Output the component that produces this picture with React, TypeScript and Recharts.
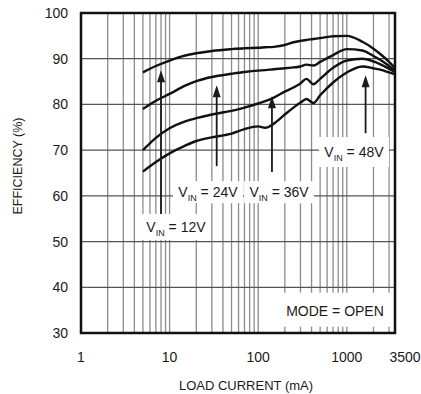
import React from 'react';
import { LineChart, Line, XAxis, YAxis, CartesianGrid, ReferenceLine, ReferenceDot, ReferenceArea, Label } from 'recharts';

// load current (mA), shared by all four curves
const currents = [5, 7, 10, 15, 20, 30, 50, 70, 100, 120, 150, 200, 250, 300, 350, 420, 500, 700, 1000, 1500, 2000, 2500, 3000, 3500];

// efficiency (%) per input voltage
const eff12 = [87.0, 88.4, 89.6, 90.7, 91.2, 91.7, 92.1, 92.3, 92.4, 92.5, 92.6, 93.0, 93.6, 93.9, 94.1, 94.3, 94.5, 94.9, 95.0, 93.7, 92.2, 90.7, 89.3, 88.0];
const eff24 = [79.0, 80.8, 82.3, 84.1, 85.1, 86.0, 86.7, 87.1, 87.4, 87.5, 87.7, 87.9, 88.1, 88.3, 88.7, 88.5, 89.3, 90.8, 92.1, 91.8, 90.6, 89.5, 88.4, 87.4];
const eff36 = [70.0, 72.7, 74.8, 76.3, 77.0, 77.8, 78.6, 79.3, 80.2, 80.7, 81.5, 82.8, 83.7, 84.6, 85.6, 84.4, 85.6, 88.0, 89.6, 90.0, 89.4, 88.6, 87.8, 87.1];
const eff48 = [65.3, 67.4, 69.3, 71.0, 72.0, 72.8, 73.6, 74.6, 75.2, 74.9, 75.8, 77.8, 79.3, 80.4, 81.2, 80.3, 82.0, 84.8, 87.0, 88.3, 87.9, 87.5, 87.0, 86.6];

// axis ticks
const gridTicks = [1, 2, 3, 4, 5, 6, 7, 8, 9, 10, 20, 30, 40, 50, 60, 70, 80, 90, 100, 200, 300, 400, 500, 600, 700, 800, 900, 1000, 2000, 3000, 3500];
const majorTicks = [1, 10, 100, 1000, 3500];
const yTicks = [30, 40, 50, 60, 70, 80, 90, 100];

// annotations (data coordinates)
const vinLabels = ['12V', '24V', '36V', '48V'];
const arrowX = [8, 34, 143, 1630];
const arrowTipY = [87.5, 84.2, 81.8, 86.4];
const arrowBaseY = [54.5, 66.5, 65.2, 73.7];
const labelX = [11.8, 27.1, 172, 1205];
const labelY = [53.2, 60.8, 60.8, 69.6];

const FONT = '"Liberation Sans", Arial, sans-serif';
const INK = '#1a1a1a';

const series = [eff12, eff24, eff36, eff48].map(vals => currents.map((x, i) => ({ x, y: vals[i] })));

const boxW = [68, 70, 70, 70];
const boxH = [26, 22, 22, 30];

const XTick = (props: any) => {
  const { x, y, payload } = props;
  const v = payload.value;
  if (!majorTicks.includes(v)) return <g />;
  return (
    <text x={x + (v === 3500 ? 10 : 0)} y={y + 29} textAnchor="middle" fontSize={14} fill={INK} fontFamily={FONT}>
      {v}
    </text>
  );
};

const arrowHead = (p: any) => (
  <path d={`M${p.cx},${p.cy} L${p.cx - 4},${p.cy + 12} L${p.cx + 4},${p.cy + 12} Z`} fill={INK} />
);

const vinLabel = (i: number) => (p: any) => (
  <g>
    <rect x={p.cx - boxW[i] / 2} y={p.cy - boxH[i] / 2} width={boxW[i]} height={boxH[i]} fill="#fff" />
    <text x={p.cx} y={p.cy + 5} textAnchor="middle" fontSize={14} fill={INK} fontFamily={FONT}>
      V<tspan fontSize={9} dy={4}>IN</tspan>
      <tspan dy={-4}> = {vinLabels[i]}</tspan>
    </text>
  </g>
);

const modeLabel = (p: any) => (
  <g>
    <rect x={p.cx - 56} y={p.cy - 17} width={112} height={34} fill="#fff" />
    <text x={p.cx} y={p.cy + 6} textAnchor="middle" fontSize={14} fill={INK} fontFamily={FONT}>
      MODE = OPEN
    </text>
  </g>
);

export default function App() {
  return (
    <div style={{ position: 'absolute', left: 0, top: 0, background: '#fff' }}>
      <LineChart width={421} height={394} margin={{ top: 13, right: 26, bottom: 0, left: 0 }}>
        <CartesianGrid horizontal={false} stroke="#8c8c8c" strokeWidth={1.3} />
        <CartesianGrid vertical={false} stroke="#555" strokeWidth={1.3} />
        <XAxis
          dataKey="x"
          type="number"
          scale="log"
          domain={[1, 3500]}
          ticks={gridTicks}
          interval={0}
          allowDataOverflow
          height={61}
          tickSize={0}
          tickMargin={0}
          tickLine={false}
          axisLine={false}
          tick={<XTick />}
        >
          <Label
            content={(props: any) => {
              const vb = props.viewBox;
              return (
                <text x={vb.x + vb.width / 2 + 8} y={vb.y + 57} textAnchor="middle" fontSize={13} fill={INK} fontFamily={FONT}>
                  LOAD CURRENT (mA)
                </text>
              );
            }}
          />
        </XAxis>
        <YAxis
          type="number"
          domain={[30, 100]}
          ticks={yTicks}
          interval={0}
          width={81}
          tickSize={0}
          tickMargin={13}
          tickLine={false}
          axisLine={false}
          tick={{ fill: INK, fontSize: 14, fontFamily: FONT }}
        >
          <Label
            content={(props: any) => {
              const vb = props.viewBox;
              const cx = vb.x + 18;
              const cy = vb.y + 153;
              return (
                <text x={cx} y={cy} transform={`rotate(-90 ${cx} ${cy})`} textAnchor="middle" dominantBaseline="central" fontSize={12.5} fill={INK} fontFamily={FONT}>
                  EFFICIENCY (%)
                </text>
              );
            }}
          />
        </YAxis>

        {series.map((d, i) => (
          <Line key={i} data={d} dataKey="y" type="monotone" stroke="#111" strokeWidth={2.4} dot={false} isAnimationActive={false} />
        ))}

        {arrowX.map((x, i) => (
          <ReferenceLine key={'s' + i} segment={[{ x, y: arrowBaseY[i] }, { x, y: arrowTipY[i] - 1 }]} stroke={INK} strokeWidth={1.8} />
        ))}
        {arrowX.map((x, i) => (
          <ReferenceDot key={'h' + i} x={x} y={arrowTipY[i]} r={4} shape={arrowHead} />
        ))}
        {labelX.map((x, i) => (
          <ReferenceDot key={'l' + i} x={x} y={labelY[i]} r={4} shape={vinLabel(i)} />
        ))}
        <ReferenceDot x={736} y={35.1} r={4} shape={modeLabel} />

        <ReferenceArea x1={1} x2={3500} y1={30} y2={100} fill="none" stroke="#111" strokeWidth={2.5} ifOverflow="visible" />
      </LineChart>
    </div>
  );
}
